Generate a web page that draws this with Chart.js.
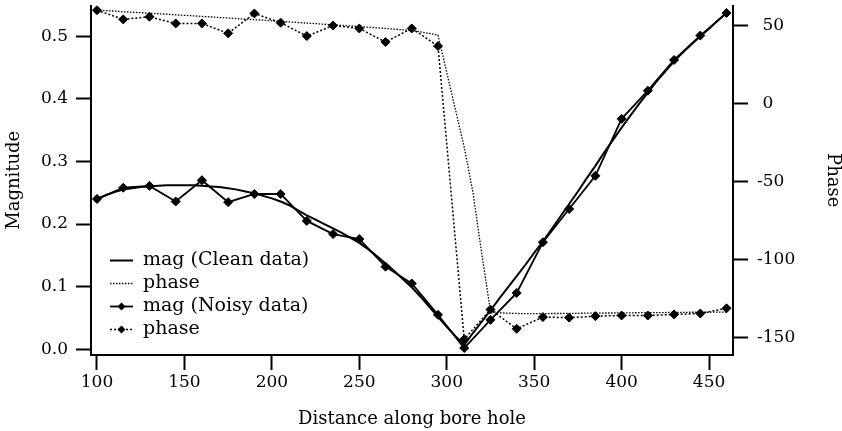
<!DOCTYPE html>
<html>
<head>
<meta charset="utf-8">
<title>Magnitude and phase along bore hole</title>
<script src="https://cdn.jsdelivr.net/npm/chart.js@4.4.1/dist/chart.umd.min.js"></script>
<style>
  html, body { margin: 0; padding: 0; background: #fff; }
  #chart { display: block; }
</style>
</head>
<body>
<canvas id="chart" width="842" height="431"></canvas>
<script>
// Clean model, sampled every 5 m along the hole
var cleanDistance = [
  100, 105, 110, 115, 120, 125, 130, 135, 140, 145, 150, 155, 160, 165, 170, 175,
  180, 185, 190, 195, 200, 205, 210, 215, 220, 225, 230, 235, 240, 245, 250, 255,
  260, 265, 270, 275, 280, 285, 290, 295, 300, 305, 310, 315, 320, 325, 330, 335,
  340, 345, 350, 355, 360, 365, 370, 375, 380, 385, 390, 395, 400, 405, 410, 415,
  420, 425, 430, 435, 440, 445, 450, 455, 460
];
var cleanMag = [
  0.240, 0.246, 0.251, 0.255, 0.257, 0.259, 0.260, 0.261, 0.262, 0.262, 0.262, 0.262, 0.261, 0.260, 0.259, 0.257,
  0.255, 0.252, 0.249, 0.245, 0.241, 0.236, 0.230, 0.222, 0.214, 0.207, 0.200, 0.193, 0.186, 0.178, 0.170, 0.160,
  0.149, 0.137, 0.125, 0.112, 0.099, 0.084, 0.068, 0.052, 0.036, 0.021, 0.007, 0.026, 0.044, 0.062, 0.081, 0.099,
  0.117, 0.135, 0.154, 0.172, 0.192, 0.212, 0.232, 0.252, 0.273, 0.293, 0.314, 0.334, 0.354, 0.373, 0.392, 0.410,
  0.428, 0.444, 0.460, 0.474, 0.487, 0.500, 0.512, 0.525, 0.537
];
var cleanPhase = [
  59.8, 59.5, 59.2, 58.8, 58.5, 58.2, 57.8, 57.5, 57.2, 56.8, 56.5, 56.2, 55.8, 55.5, 55.1, 54.8,
  54.4, 54.1, 53.7, 53.4, 53.0, 52.6, 52.3, 51.9, 51.5, 51.2, 50.8, 50.4, 50.1, 49.7, 49.3, 48.9,
  48.5, 48.1, 47.7, 47.2, 46.8, 45.9, 45.0, 43.8, 20.0, -4.0, -28.0, -57.0, -96.0, -133.0, -134.0, -134.3,
  -134.5, -134.6, -134.6, -134.6, -134.5, -134.5, -134.4, -134.4, -134.3, -134.3, -134.2, -134.2, -134.1, -134.1, -134.0, -134.0,
  -133.9, -133.9, -133.8, -133.8, -133.7, -133.7, -133.7, -133.6, -133.6
];

// Noisy measurements, every 15 m
var noisyDistance = [
  100, 115, 130, 145, 160, 175, 190, 205, 220, 235, 250, 265, 280,
  295, 310, 325, 340, 355, 370, 385, 400, 415, 430, 445, 460
];
var noisyMag = [
  0.240, 0.258, 0.261, 0.236, 0.270, 0.235, 0.248, 0.248, 0.205, 0.184, 0.176, 0.132, 0.105,
  0.055, 0.002, 0.047, 0.090, 0.171, 0.224, 0.277, 0.368, 0.413, 0.462, 0.501, 0.537
];
var noisyPhase = [
  59.8, 53.9, 55.6, 51.3, 51.3, 45.0, 57.7, 51.8, 43.2, 50.0, 48.1, 39.4, 48.1,
  36.8, -151.0, -132.0, -144.3, -136.8, -137.2, -136.2, -135.8, -135.8, -135.1, -134.5, -131.2
];

var legendLabels = ["mag (Clean data)", "phase", "mag (Noisy data)", "phase"];

function toPoints(xs, ys) {
  var pts = [];
  for (let i = 0; i < xs.length; i++) {
    pts.push({ x: xs[i], y: ys[i] });
  }
  return pts;
}

var serif = "'DejaVu Serif', 'Liberation Serif', serif";

// Legend drawn inside the plot, lower left, with line samples like the traces
var insideLegend = {
  id: "insideLegend",
  afterDatasetsDraw: function(chart) {
    var ctx = chart.ctx;
    var x0 = 110, x1 = 133, textX = 143, y0 = 260.5, step = 23;
    ctx.save();
    ctx.font = "19px " + serif;
    ctx.fillStyle = "#000";
    ctx.textBaseline = "middle";
    chart.data.datasets.forEach(function(ds, i) {
      var y = y0 + i * step;
      ctx.strokeStyle = "#000";
      ctx.lineWidth = ds.borderWidth;
      ctx.setLineDash(ds.borderDash || []);
      ctx.beginPath();
      ctx.moveTo(x0, y);
      ctx.lineTo(x1, y);
      ctx.stroke();
      ctx.setLineDash([]);
      if (ds.pointRadius > 0) {
        var r = 4;
        var cx = (x0 + x1) / 2;
        ctx.beginPath();
        ctx.moveTo(cx, y - r);
        ctx.lineTo(cx + r, y);
        ctx.lineTo(cx, y + r);
        ctx.lineTo(cx - r, y);
        ctx.closePath();
        ctx.fill();
      }
      ctx.fillText(legendLabels[i], textX, y);
    });
    ctx.restore();
  }
};

function axisGrid() {
  return {
    drawOnChartArea: false,
    drawTicks: true,
    tickLength: 15,
    tickWidth: 2,
    tickColor: "#000",
    color: "#000"
  };
}

// Fixed axis box sizes so the plot area sits where it should
function fixWidth(w) {
  return function(scale) {
    scale.width = w;
    scale.paddingTop = 0;
    scale.paddingBottom = 0;
  };
}

var ctx = document.getElementById("chart");
var myChart = new Chart(ctx, {
  type: "line",
  data: {
    datasets: [
      {
        label: legendLabels[0],
        data: toPoints(cleanDistance, cleanMag),
        yAxisID: "y",
        borderColor: "#000",
        borderWidth: 2,
        pointRadius: 0,
        fill: false
      },
      {
        label: legendLabels[1],
        data: toPoints(cleanDistance, cleanPhase),
        yAxisID: "y2",
        borderColor: "#000",
        borderWidth: 1.3,
        borderDash: [1.5, 1.5],
        pointRadius: 0,
        fill: false
      },
      {
        label: legendLabels[2],
        data: toPoints(noisyDistance, noisyMag),
        yAxisID: "y",
        borderColor: "#000",
        borderWidth: 1.8,
        pointStyle: "rectRot",
        pointRadius: 4.5,
        pointBackgroundColor: "#000",
        pointBorderColor: "#000",
        pointBorderWidth: 1,
        fill: false
      },
      {
        label: legendLabels[3],
        data: toPoints(noisyDistance, noisyPhase),
        yAxisID: "y2",
        borderColor: "#000",
        borderWidth: 1.5,
        borderDash: [2, 2],
        pointStyle: "rectRot",
        pointRadius: 4.5,
        pointBackgroundColor: "#000",
        pointBorderColor: "#000",
        pointBorderWidth: 1,
        fill: false
      }
    ]
  },
  options: {
    responsive: false,
    devicePixelRatio: 1,
    animation: false,
    layout: { padding: { top: 5, left: 0, right: 0, bottom: 0 } },
    elements: { line: { tension: 0 } },
    plugins: {
      legend: { display: false },
      tooltip: { enabled: false }
    },
    scales: {
      x: {
        type: "linear",
        position: "bottom",
        min: 96.57,
        max: 463.7,
        border: { display: true, color: "#000", width: 2 },
        grid: axisGrid(),
        ticks: {
          stepSize: 50,
          includeBounds: false,
          color: "#000",
          padding: 2,
          maxRotation: 0,
          font: { family: serif, size: 17 }
        },
        title: {
          display: true,
          text: "Distance along bore hole",
          color: "#000",
          font: { family: serif, size: 18 },
          padding: { top: 0, bottom: 1 }
        },
        afterFit: function(scale) {
          scale.height = 76;
          scale.paddingLeft = 0;
          scale.paddingRight = 0;
        }
      },
      y: {
        type: "linear",
        position: "left",
        min: -0.0091,
        max: 0.549,
        border: { display: true, color: "#000", width: 2 },
        grid: axisGrid(),
        ticks: {
          stepSize: 0.1,
          includeBounds: false,
          color: "#000",
          padding: 8,
          font: { family: serif, size: 17 },
          callback: function(v) { return v.toFixed(1); }
        },
        title: {
          display: true,
          text: "Magnitude",
          color: "#000",
          font: { family: serif, size: 18 },
          padding: { top: 4, bottom: 0 }
        },
        afterFit: fixWidth(91)
      },
      y2: {
        type: "linear",
        position: "right",
        min: -161.1,
        max: 62.8,
        border: { display: true, color: "#000", width: 2 },
        grid: axisGrid(),
        ticks: {
          stepSize: 50,
          includeBounds: false,
          color: "#000",
          padding: 9,
          font: { family: serif, size: 17 },
          // minus signs hang to the left of the digit column
          callback: function(v) { return v < 0 ? String(v) : "\u2008" + v; }
        },
        title: {
          display: true,
          text: "Phase",
          color: "#000",
          font: { family: serif, size: 18 },
          padding: { top: -1, bottom: 0 }
        },
        afterFit: fixWidth(109)
      }
    }
  },
  plugins: [insideLegend]
});
</script>
</body>
</html>
